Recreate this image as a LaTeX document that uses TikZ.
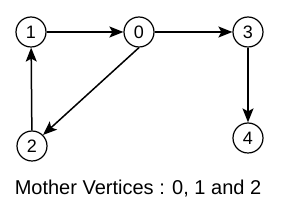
\documentclass[tikz,border=0pt]{standalone}
\usepackage{fontspec}
\setmainfont{Liberation Sans}
\usetikzlibrary{arrows.meta,positioning}
\definecolor{Ink}{HTML}{000000}

\begin{document}
\begin{tikzpicture}[x=1pt, y=-1pt,
    vertex/.style={draw=Ink, line width=1.2pt, circle, fill=white, minimum size=30pt, inner sep=0pt, font=\fontsize{18}{20}\selectfont},
    edge/.style={-{Stealth[length=14pt, width=11pt, inset=3pt]}, Ink, line width=1.5pt}]
      \useasboundingbox (0,0) rectangle (290,216);
      \node[vertex] (V1) at (31,32) {1};
      \node[vertex] (V0) at (139,32) {0};
      \node[vertex] (V3) at (248,32) {3};
      \node[vertex] (V2) at (32,146) {2};
      \node[vertex] (V4) at (248,138) {4};
      \draw[edge] (V1) -- (V0);
      \draw[edge] (V0) -- (V3);
      \draw[edge] (V0.south) -- (V2.north east);
      \draw[edge] (V2) -- (V1);
      \draw[edge] (V3) -- (V4);
      \node[font=\fontsize{20}{23}\selectfont, text=Ink] (L) at (138,189) {Mother Vertices : 0, 1 and 2};
    \end{tikzpicture}
\end{document}
